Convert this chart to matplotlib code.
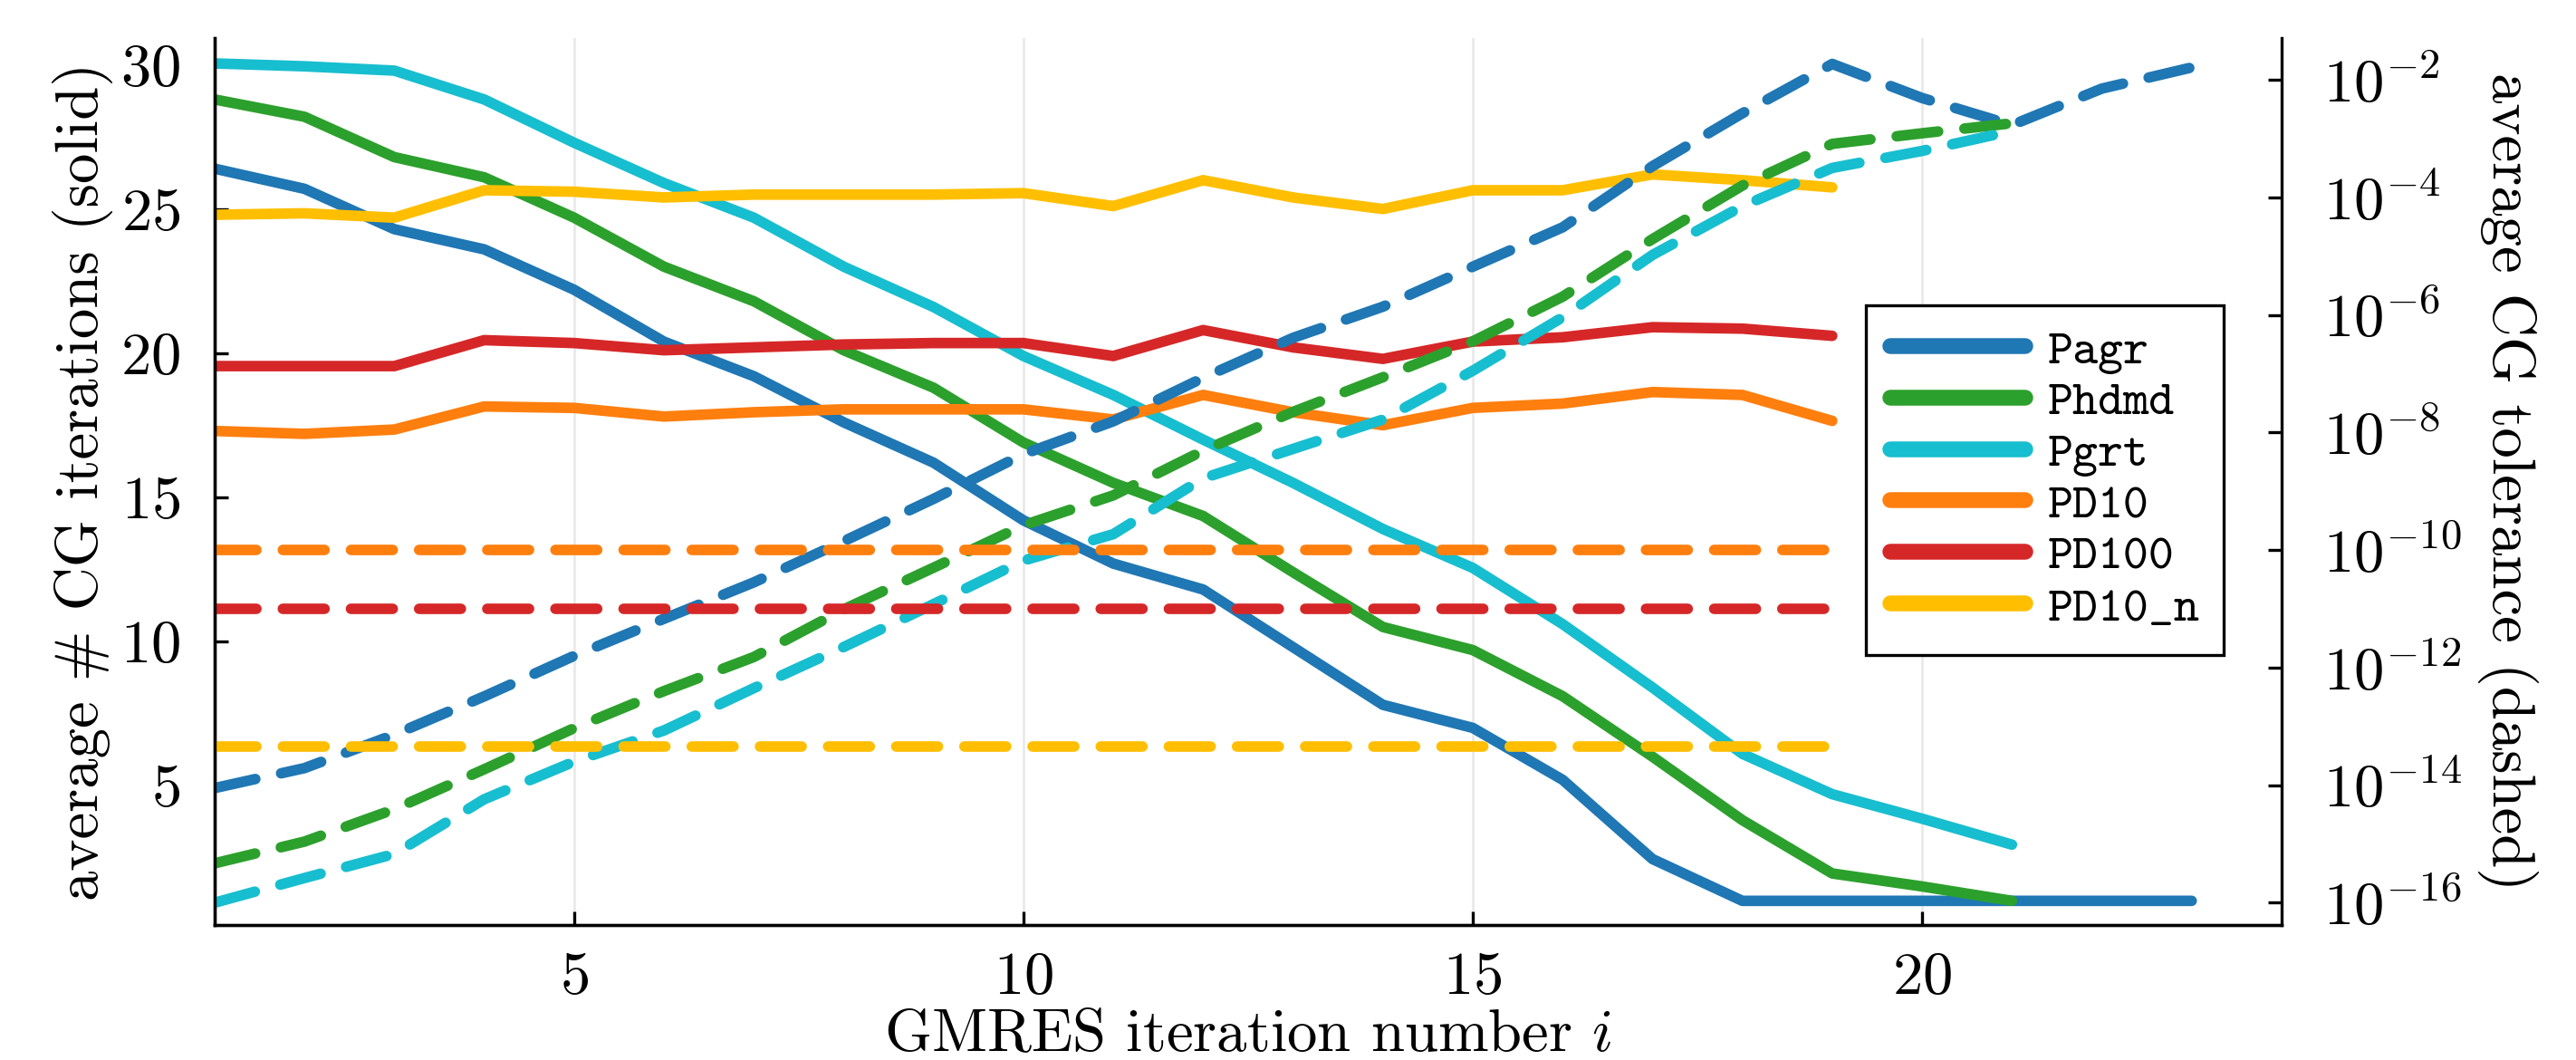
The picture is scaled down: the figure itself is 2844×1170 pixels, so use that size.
import numpy as np
import matplotlib.pyplot as plt
from matplotlib.lines import Line2D
from matplotlib.ticker import NullLocator

plt.rcParams['font.family'] = ['cmr10', 'DejaVu Serif']
plt.rcParams['mathtext.fontset'] = 'cm'
plt.rcParams['axes.formatter.use_mathtext'] = True

names = ['Pagr', 'Phdmd', 'Pgrt', 'PD10', 'PD100', 'PD10_n']
colors = ['#1f77b4', '#2ca02c', '#17becf', '#ff7f0e', '#d62728', '#ffbf00']

# average number of CG iterations per GMRES iteration (solid)
cg_pagr = [26.4, 25.7, 24.3, 23.6, 22.2, 20.4, 19.2, 17.6, 16.2, 14.2, 12.7, 11.8,
           9.8, 7.8, 7.0, 5.2, 2.45, 1.0, 1.0, 1.0, 1.0, 1.0, 1.0]
cg_phdmd = [28.8, 28.2, 26.8, 26.1, 24.7, 23.0, 21.8, 20.1, 18.8, 16.9, 15.5, 14.35,
            12.4, 10.5, 9.7, 8.1, 6.0, 3.8, 1.95, 1.5, 1.0]
cg_pgrt = [30.05, 29.95, 29.8, 28.8, 27.3, 25.9, 24.7, 23.0, 21.6, 19.9, 18.55, 17.0,
           15.5, 13.9, 12.55, 10.6, 8.4, 6.1, 4.7, 3.85, 2.95]
cg_pd10 = [17.3, 17.2, 17.35, 18.15, 18.1, 17.8, 17.95, 18.05, 18.05, 18.05, 17.7, 18.55,
           17.95, 17.5, 18.1, 18.25, 18.65, 18.55, 17.65]
cg_pd100 = [19.55, 19.55, 19.55, 20.45, 20.35, 20.1, 20.2, 20.3, 20.35, 20.35, 19.9, 20.8,
            20.2, 19.8, 20.4, 20.55, 20.9, 20.85, 20.6]
cg_pd10n = [24.8, 24.85, 24.7, 25.65, 25.6, 25.4, 25.5, 25.5, 25.5, 25.55, 25.1, 26.0,
            25.4, 25.0, 25.65, 25.65, 26.2, 26.0, 25.75]

# log10 of the average CG tolerance (dashed)
tol_pagr = [-14.05, -13.71, -13.14, -12.49, -11.8, -11.17, -10.55, -9.85, -9.13, -8.37,
            -7.81, -7.07, -6.39, -5.86, -5.18, -4.51, -3.47, -2.57, -1.73, -2.31,
            -2.77, -2.15, -1.79]
tol_phdmd = [-15.33, -14.96, -14.41, -13.73, -13.03, -12.4, -11.82, -11.01, -10.3, -9.58,
             -9.07, -8.31, -7.65, -7.06, -6.45, -5.69, -4.71, -3.8, -3.09, -2.91, -2.74]
tol_pgrt = [-16.0, -15.58, -15.17, -14.24, -13.6, -13.07, -12.35, -11.65, -10.92, -10.18,
            -9.73, -8.78, -8.28, -7.78, -6.95, -6.04, -4.98, -4.15, -3.5, -3.21, -2.87]
tol_pd10 = [-10.0, -10.0, -10.0, -10.0, -10.0, -10.0, -10.0, -10.0, -10.0, -10.0,
            -10.0, -10.0, -10.0, -10.0, -10.0, -10.0, -10.0, -10.0, -10.0]
tol_pd100 = [-11.0, -11.0, -11.0, -11.0, -11.0, -11.0, -11.0, -11.0, -11.0, -11.0,
             -11.0, -11.0, -11.0, -11.0, -11.0, -11.0, -11.0, -11.0, -11.0]
tol_pd10n = [-13.35, -13.35, -13.35, -13.35, -13.35, -13.35, -13.35, -13.35, -13.35, -13.35,
             -13.35, -13.35, -13.35, -13.35, -13.35, -13.35, -13.35, -13.35, -13.35]

cg_all = [cg_pagr, cg_phdmd, cg_pgrt, cg_pd10, cg_pd100, cg_pd10n]
tol_all = [tol_pagr, tol_phdmd, tol_pgrt, tol_pd10, tol_pd100, tol_pd10n]

fig = plt.figure(figsize=(9.48, 3.9), dpi=300)
ax = fig.add_axes([0.0833, 0.1273, 0.8024, 0.8368])
ax2 = ax.twinx()

lw = 2.8
for y, c in zip(cg_all, colors):
    ax.plot(np.arange(1, len(y) + 1), y, color=c, lw=lw,
            solid_capstyle='round', solid_joinstyle='round')
for t, c in zip(tol_all, colors):
    ax2.plot(np.arange(1, len(t) + 1), 10.0 ** np.array(t), color=c, lw=lw,
             linestyle=(0, (3.95, 2.5)), dash_capstyle='round', dash_joinstyle='round')

ax.set_xlim(1, 24)
ax.set_ylim(0.16, 30.93)
ax.set_xticks([5, 10, 15, 20])
ax.set_yticks([5, 10, 15, 20, 25, 30])
ax.xaxis.grid(True, color='#e8e8e8', lw=0.6)
ax.set_axisbelow(True)

ax2.set_yscale('log')
ax2.set_ylim(10 ** -16.38, 10 ** -1.29)
ax2.set_yticks([10.0 ** k for k in range(-16, -1, 2)])
ax2.yaxis.set_minor_locator(NullLocator())

for a in (ax, ax2):
    a.spines['top'].set_visible(False)
    for s in a.spines.values():
        s.set_linewidth(0.8)
ax.spines['right'].set_visible(False)

ax.tick_params(axis='x', direction='in', length=3.5, width=0.8, labelsize=16, pad=7, top=False)
ax.tick_params(axis='y', direction='in', length=3.5, width=0.8, labelsize=16, pad=9, right=False)
ax2.tick_params(axis='y', direction='in', length=3.5, width=0.8, labelsize=16, pad=11)

ax.set_xlabel('GMRES iteration number $i$', fontsize=16, labelpad=1)
ax.set_ylabel('average # CG iterations (solid)', fontsize=16, labelpad=2)
ax2.set_ylabel('average CG tolerance (dashed)', fontsize=16, rotation=270,
               va='bottom', labelpad=4)

handles = [Line2D([], [], color=c, lw=4.2, solid_capstyle='round') for c in colors]
leg = ax2.legend(handles, names, loc='upper left', bbox_to_anchor=(0.799, 0.699),
                 prop={'family': ['cmtt10', 'DejaVu Sans Mono'], 'size': 12.8},
                 frameon=True, fancybox=False, edgecolor='black', framealpha=1,
                 handlelength=2.8, handletextpad=0.45, labelspacing=0.14,
                 borderpad=0.5, borderaxespad=0)
leg.get_frame().set_linewidth(0.8)

fig.savefig('out.png', dpi=300)
